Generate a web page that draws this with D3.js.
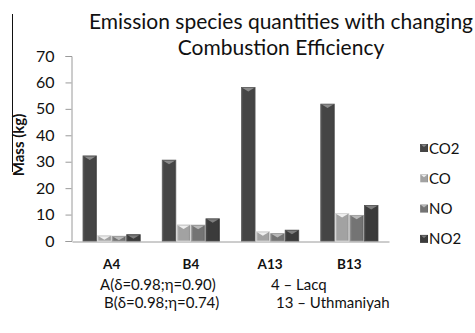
<!DOCTYPE html>
<html>
<head>
<meta charset="utf-8">
<script src="https://cdn.jsdelivr.net/npm/d3@7"></script>
<style>
  body { margin: 0; background: #fff; }
  text { font-family: Lato, "Open Sans", sans-serif; fill: #111; }
</style>
</head>
<body>
<script>
let categories = ["A4", "B4", "A13", "B13"];
let series = ["CO2", "CO", "NO", "NO2"];
let co2 = [32.2, 30.6, 58.1, 51.8];
let co = [2.0, 6.1, 3.5, 10.4];
let no = [1.8, 6.0, 2.8, 9.7];
let no2 = [2.4, 8.4, 4.1, 13.4];
let yTicks = [0, 10, 20, 30, 40, 50, 60, 70];

let values = { CO2: co2, CO: co, NO: no, NO2: no2 };
let colors = { CO2: "#454545", CO: "#a2a2a2", NO: "#747474", NO2: "#3b3b3b" };
let capColors = { CO2: "#8a8a8a", CO: "#eeeeee", NO: "#b8b8b8", NO2: "#7d7d7d" };

let width = 475;
let height = 333;

let svg = d3
  .select("body")
  .append("svg")
  .attr("width", width)
  .attr("height", height);

let xScale = d3
  .scaleBand()
  .domain(categories)
  .range([72, 389])
  .paddingInner(0.265)
  .paddingOuter(0.1325);
let subScale = d3
  .scaleBand()
  .domain(series)
  .range([0, xScale.bandwidth()]);
let yScale = d3.scaleLinear().domain([0, 70]).range([241, 56]);

// gradients for the bevelled bar look
let defs = svg.append("defs");
series.forEach((s) => {
  let g = defs
    .append("linearGradient")
    .attr("id", "g" + s)
    .attr("x1", "0")
    .attr("x2", "1");
  let c = d3.color(colors[s]);
  g.append("stop").attr("offset", "0").attr("stop-color", c.brighter(0.6));
  g.append("stop").attr("offset", "0.15").attr("stop-color", c);
  g.append("stop").attr("offset", "0.85").attr("stop-color", c);
  g.append("stop").attr("offset", "1").attr("stop-color", c.darker(0.4));
});

// title
svg
  .append("text")
  .attr("x", 281)
  .attr("y", 29)
  .attr("text-anchor", "middle")
  .style("font-size", "21px")
  .text("Emission species quantities with changing");
svg
  .append("text")
  .attr("x", 281)
  .attr("y", 55)
  .attr("text-anchor", "middle")
  .style("font-size", "21px")
  .text("Combustion Efficiency");

// left frame line
svg
  .append("line")
  .attr("x1", 12.5)
  .attr("x2", 12.5)
  .attr("y1", 14)
  .attr("y2", 172)
  .attr("stroke", "#111");

svg
  .append("text")
  .attr("transform", "translate(24,145) rotate(-90)")
  .attr("text-anchor", "middle")
  .style("font-size", "15px")
  .style("font-weight", "bold")
  .text("Mass (kg)");

// y axis
let yAxis = svg
  .append("g")
  .attr("transform", "translate(71.5,0)")
  .call(d3.axisLeft(yScale).tickValues(yTicks).tickSize(6).tickPadding(11));
yAxis.selectAll("path, line").attr("stroke", "#9a9a9a");
yAxis
  .selectAll("text")
  .style("font-size", "16px")
  .style("font-family", "Lato, sans-serif")
  .attr("fill", "#111");

// x axis
let xAxis = svg
  .append("g")
  .attr("transform", "translate(0,241.5)")
  .call(d3.axisBottom(xScale).tickSize(0).tickPadding(18));
xAxis.select("path").attr("stroke", "#9a9a9a");
xAxis
  .selectAll("text")
  .style("font-size", "13.5px")
  .style("font-weight", "bold")
  .style("font-family", "Lato, sans-serif")
  .attr("fill", "#111");

// bars
let groups = svg
  .selectAll("g.grp")
  .data(categories)
  .enter()
  .append("g")
  .attr("class", "grp")
  .attr("transform", (d) => `translate(${xScale(d)},0)`);

groups.each(function (cat, ci) {
  let g = d3.select(this);
  series.forEach((s) => {
    let v = values[s][ci];
    let x = subScale(s);
    let w = subScale.bandwidth();
    let y = yScale(v);
    let h = yScale(0) - y;
    g.append("rect")
      .attr("x", x + 0.5)
      .attr("y", y)
      .attr("width", w - 1)
      .attr("height", h)
      .attr("fill", `url(#g${s})`)
      .attr("stroke", d3.color(colors[s]).brighter(0.8))
      .attr("stroke-width", 0.8);
    let capH = Math.min(4, h);
    g.append("path")
      .attr(
        "d",
        `M${x + 1.5},${y + 0.5}L${x + w - 1.5},${y + 0.5}L${x + w / 2},${y + capH}Z`
      )
      .attr("fill", capColors[s]);
  });
});

// legend
let legend = svg
  .selectAll("g.leg")
  .data(series)
  .enter()
  .append("g")
  .attr("class", "leg")
  .attr("transform", (d, i) => `translate(420,${148 + i * 30.3})`);
legend
  .append("rect")
  .attr("x", 0)
  .attr("y", -4)
  .attr("width", 8)
  .attr("height", 8)
  .attr("fill", (d) => `url(#g${d})`);
legend
  .append("path")
  .attr("d", "M1,-3.5L7,-3.5L4,-1Z")
  .attr("fill", (d) => capColors[d]);
legend
  .append("text")
  .attr("x", 9)
  .attr("y", 5.5)
  .style("font-size", "15px")
  .text((d) => d);

// footer notes
let notes = [
  ["A(δ=0.98;η=0.90)", 100, 290],
  ["4 – Lacq", 271, 290],
  ["B(δ=0.98;η=0.74)", 104, 308],
  ["13 – Uthmaniyah", 276, 308],
];
svg
  .selectAll("text.note")
  .data(notes)
  .enter()
  .append("text")
  .attr("class", "note")
  .attr("x", (d) => d[1])
  .attr("y", (d) => d[2])
  .style("font-size", "15px")
  .text((d) => d[0]);
</script>
</body>
</html>
